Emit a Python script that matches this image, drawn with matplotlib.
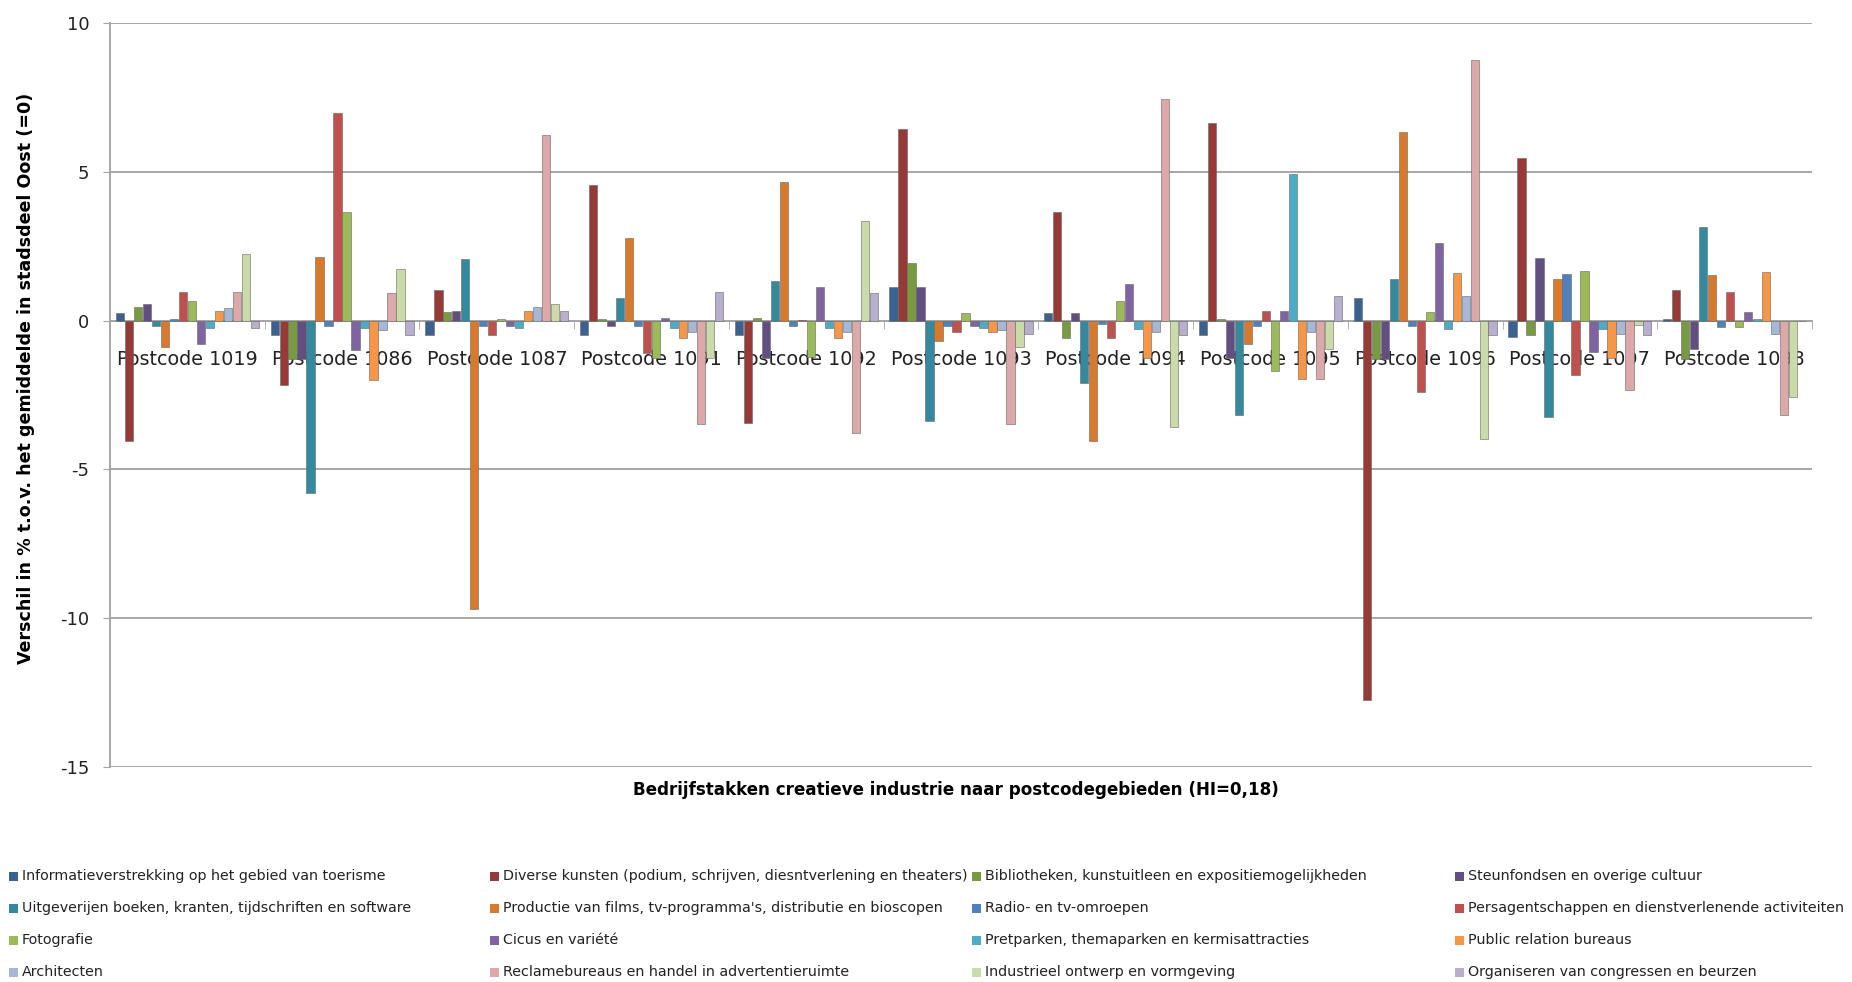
import numpy as np
import matplotlib.pyplot as plt
from matplotlib.patches import Rectangle

plt.rcParams['axes.unicode_minus'] = False

# postcode areas on the x axis
postcodes = ['Postcode 1019', 'Postcode 1086', 'Postcode 1087', 'Postcode 1091',
             'Postcode 1092', 'Postcode 1093', 'Postcode 1094', 'Postcode 1095',
             'Postcode 1096', 'Postcode 1097', 'Postcode 1098']

# branches of the creative industry (one bar per branch in every group)
branches = [
    'Informatieverstrekking op het gebied van toerisme',
    'Diverse kunsten (podium, schrijven, diesntverlening en theaters)',
    'Bibliotheken, kunstuitleen en expositiemogelijkheden',
    'Steunfondsen en overige cultuur',
    'Uitgeverijen boeken, kranten, tijdschriften en software',
    "Productie van films, tv-programma's, distributie en bioscopen",
    'Radio- en tv-omroepen',
    'Persagentschappen en dienstverlenende activiteiten',
    'Fotografie',
    'Cicus en variété',
    'Pretparken, themaparken en kermisattracties',
    'Public relation bureaus',
    'Architecten',
    'Reclamebureaus en handel in advertentieruimte',
    'Industrieel ontwerp en vormgeving',
    'Organiseren van congressen en beurzen',
]

# difference in % compared to the Oost average, per branch, per postcode
informatie   = [0.25, -0.5, -0.5, -0.5, -0.5, 1.14, 0.25, -0.5, 0.76, -0.55, 0.05]
kunsten      = [-4.05, -2.15, 1.04, 4.55, -3.45, 6.45, 3.65, 6.65, -12.75, 5.45, 1.03]
bibliotheken = [0.45, -1.3, 0.3, 0.05, 0.1, 1.93, -0.6, 0.05, -1.3, -0.5, -1.3]
steunfondsen = [0.55, -1.3, 0.32, -0.17, -1.26, 1.14, 0.25, -1.26, -1.3, 2.1, -0.95]
uitgeverijen = [-0.17, -5.78, 2.06, 0.76, 1.34, -3.37, -2.1, -3.17, 1.4, -3.25, 3.15]
films        = [-0.9, 2.13, -9.68, 2.77, 4.66, -0.67, -4.05, -0.8, 6.35, 1.38, 1.54]
radio        = [0.05, -0.17, -0.17, -0.17, -0.17, -0.17, -0.12, -0.17, -0.17, 1.58, -0.2]
persagent    = [0.95, 6.96, -0.5, -1.1, 0.03, -0.4, -0.6, 0.32, -2.4, -1.82, 0.95]
fotografie   = [0.67, 3.66, 0.05, -1.26, -1.22, 0.25, 0.65, -1.68, 0.3, 1.66, -0.2]
circus       = [-0.8, -1.0, -0.17, 0.1, 1.14, -0.17, 1.24, 0.32, 2.6, -1.07, 0.3]
pretparken   = [-0.25, -0.25, -0.25, -0.25, -0.25, -0.25, -0.28, 4.94, -0.28, -0.3, 0.05]
pr_bureaus   = [0.33, -2.0, 0.32, -0.6, -0.6, -0.4, -1.26, -1.98, 1.6, -1.27, 1.62]
architecten  = [0.43, -0.33, 0.45, -0.4, -0.4, -0.33, -0.4, -0.4, 0.84, -0.45, -0.45]
reclame      = [0.95, 0.92, 6.22, -3.47, -3.77, -3.46, 7.45, -1.98, 8.74, -2.33, -3.16]
industrieel  = [2.24, 1.73, 0.55, -1.26, 3.34, -0.9, -3.56, -0.96, -3.97, -0.15, -2.57]
congressen   = [-0.25, -0.47, 0.32, 0.95, 0.92, -0.45, -0.47, 0.82, -0.5, -0.5, 0.0]

series = [informatie, kunsten, bibliotheken, steunfondsen, uitgeverijen, films,
          radio, persagent, fotografie, circus, pretparken, pr_bureaus,
          architecten, reclame, industrieel, congressen]

colors = ['#3B6190', '#963A38', '#789A40', '#634E84', '#34899F', '#D8792C',
          '#4F81BD', '#C0504D', '#9BBB59', '#8064A2', '#4BACC6', '#F79646',
          '#A6B8D8', '#DDA9A8', '#CADBA9', '#B8AFCF']

fig = plt.figure(figsize=(18.52, 9.82), dpi=100)
ax = fig.add_axes([0.0594, 0.219, 0.919, 0.7576])

x = np.arange(len(postcodes))
n = len(series)
w = 0.93 / n
for i, (vals, c) in enumerate(zip(series, colors)):
    ax.bar(x + (i - (n - 1) / 2) * w, vals, width=w * 0.92, color=c,
           edgecolor='#666666', linewidth=0.4, zorder=3)

ax.set_xlim(-0.5, len(postcodes) - 0.5)
ax.set_ylim(-15, 10)
ax.set_yticks([-15, -10, -5, 0, 5, 10])
ax.grid(axis='y', color='#A6A6A6', linewidth=1.4, zorder=0)
ax.set_axisbelow(True)

# category axis sits on the zero line
ax.spines['bottom'].set_position(('data', 0))
ax.spines['bottom'].set_color('#A6A6A6')
ax.spines['bottom'].set_linewidth(1.4)
ax.spines['left'].set_color('#A6A6A6')
ax.spines['left'].set_linewidth(1.4)
ax.spines['top'].set_visible(False)
ax.spines['right'].set_visible(False)

ax.set_xticks(x)
ax.set_xticklabels(postcodes, fontsize=13.8, color='#222222')
ax.set_xticks(np.arange(len(postcodes) + 1) - 0.5, minor=True)
ax.tick_params(axis='x', which='major', length=0, pad=21)
ax.tick_params(axis='x', which='minor', length=6, color='#A6A6A6', direction='out')
ax.tick_params(axis='y', length=5, color='#A6A6A6', labelsize=13, labelcolor='#222222', pad=10)

fig.text(0.014, 0.615, 'Verschil in % t.o.v. het gemiddelde in stadsdeel Oost (=0)',
         rotation=90, ha='center', va='center', fontsize=12.6, fontweight='bold')
fig.text(0.516, 0.196, 'Bedrijfstakken creatieve industrie naar postcodegebieden (HI=0,18)',
         ha='center', va='center', fontsize=12.1, fontweight='bold')

# legend, four columns filled row by row
col_x = [9, 490, 972, 1455]
row_y = [876, 908, 940, 972]
W, H = 1852, 982
for i, (name, c) in enumerate(zip(branches, colors)):
    px, py = col_x[i % 4], row_y[i // 4]
    fig.add_artist(Rectangle((px / W, (H - py - 5) / H), 9 / W, 9 / H,
                             transform=fig.transFigure, facecolor=c, edgecolor='none'))
    fig.text((px + 13) / W, (H - py) / H, name, ha='left', va='center',
             fontsize=10.3, color='#222222')

plt.savefig('out.png')
